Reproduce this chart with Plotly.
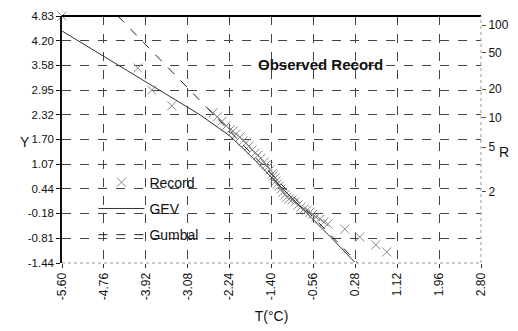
import math
import plotly.graph_objects as go

# ---- data ----
record_t = [-5.60, -4.08, -3.80, -3.40,
            -2.57, -2.49, -2.39, -2.31, -2.23, -2.17, -2.11, -2.03, -1.97, -1.91,
            -1.85, -1.79, -1.73, -1.67, -1.61, -1.55, -1.51, -1.47, -1.43, -1.39,
            -1.37, -1.33, -1.31, -1.29, -1.25, -1.21, -1.17, -1.13, -1.09, -1.05,
            -0.99, -0.93, -0.87, -0.81, -0.75, -0.69, -0.63, -0.57, -0.51, -0.43,
            -0.35, -0.27,
            0.07, 0.37, 0.69, 0.91]
record_y = [4.83, 3.51, 2.95, 2.55,
            2.37, 2.27, 2.16, 2.04, 1.94, 1.91, 1.83, 1.76, 1.66, 1.61,
            1.53, 1.43, 1.35, 1.30, 1.22, 1.12, 1.05, 1.00, 0.92, 0.82,
            0.77, 0.72, 0.64, 0.56, 0.51, 0.44, 0.36, 0.29, 0.23, 0.18,
            0.16, 0.11, 0.03, -0.02, -0.07, -0.10, -0.15, -0.20, -0.27, -0.32,
            -0.40, -0.45,
            -0.58, -0.78, -0.98, -1.16]

gev_t = [-5.60, -3.64, -2.83, -2.23, -1.80, -1.39, -0.97, -0.55, -0.14, 0.27]
gev_y = [4.45, 2.95, 2.32, 1.78, 1.26, 0.72, 0.19, -0.35, -0.88, -1.42]

gumbel_t = [-4.48, 0.33]
gumbel_y = [4.83, -1.44]

x_ticks = [-5.60, -4.76, -3.92, -3.08, -2.24, -1.40, -0.56, 0.28, 1.12, 1.96, 2.80]
y_ticks = [-1.44, -0.81, -0.18, 0.44, 1.07, 1.70, 2.32, 2.95, 3.58, 4.20, 4.83]
r_labels = [2, 5, 10, 20, 50, 100]

x_range = [-5.60, 2.80]
y_range = [-1.44, 4.83]

FONT = "Liberation Sans, Arial, sans-serif"

fig = go.Figure()
fig.add_trace(go.Scatter(
    x=record_t, y=record_y, mode="markers", name="Record",
    marker=dict(symbol="x-thin", size=9, line=dict(color="#8a8a8a", width=1)),
    legendgroup="a", cliponaxis=False))
fig.add_trace(go.Scatter(
    x=gev_t, y=gev_y, mode="lines", name="GEV",
    line=dict(color="#333333", width=1), legendgroup="b"))
fig.add_trace(go.Scatter(
    x=gumbel_t, y=gumbel_y, mode="lines", name="Gumbal",
    line=dict(color="#222222", width=1, dash="dash"), legendgroup="c"))
fig.add_trace(go.Scatter(x=[None], y=[None], yaxis="y2", showlegend=False,
                         hoverinfo="skip"))

# right axis: return period R on Gumbel reduced variate scale
r_pos = [-math.log(-math.log(1 - 1 / r)) for r in r_labels]

fig.update_layout(
    width=518, height=331,
    margin=dict(l=62, r=37, t=16, b=68),
    paper_bgcolor="white", plot_bgcolor="white",
    font=dict(family=FONT, size=12, color="#111"),
    showlegend=True,
    legend=dict(x=0.075, y=0.39, xanchor="left", yanchor="top",
                bgcolor="rgba(0,0,0,0)", font=dict(size=14, family=FONT),
                tracegroupgap=5, itemwidth=46),
    xaxis=dict(range=x_range, tickvals=x_ticks, automargin=False,
               ticktext=[f"{v:.2f}" for v in x_ticks], tickangle=-90,
               showgrid=True, gridcolor="#444", griddash="dash", gridwidth=1,
               ticks="outside", ticklen=4, tickcolor="#333",
               zeroline=False, showline=False,
               title=dict(text="T(°C)", font=dict(size=14), standoff=12)),
    yaxis=dict(range=y_range, tickvals=y_ticks, automargin=False,
               ticktext=[f"{v:.2f}" for v in y_ticks],
               tickfont=dict(size=11.5),
               showgrid=True, gridcolor="#444", griddash="dash", gridwidth=1,
               ticks="outside", ticklen=4, tickcolor="#111",
               zeroline=False, showline=True, linecolor="#111", linewidth=1.5),
    yaxis2=dict(range=y_range, overlaying="y", side="right", automargin=False,
                tickvals=r_pos, ticktext=[str(r) for r in r_labels],
                ticks="outside", ticklen=4, tickcolor="#555",
                showgrid=False, zeroline=False, showline=False,
                tickfont=dict(size=12)),
    annotations=[
        dict(x=-0.41, y=3.61, xref="x", yref="y",
             text="<b>Observed Record</b>", showarrow=False,
             font=dict(size=15, family=FONT, color="#111")),
        dict(x=18, y=142, xref="paper", yref="paper", text="Y", showarrow=False,
             font=dict(size=14, family=FONT, color="#111")),
        dict(x=511, y=152, xref="paper", yref="paper", text="R", showarrow=False,
             font=dict(size=14, family=FONT, color="#111")),
    ],
    shapes=[
        dict(type="line", xref="paper", yref="paper", x0=0, x1=1, y0=1, y1=1,
             line=dict(color="#000", width=2)),
        dict(type="line", xref="paper", yref="paper", x0=1, x1=1, y0=0, y1=1,
             line=dict(color="#999", width=1, dash="dot")),
        dict(type="line", xref="paper", yref="paper", x0=0, x1=1, y0=0, y1=0,
             line=dict(color="#999", width=1, dash="dot")),
    ],
)

# convert pixel positions of the two axis-letter annotations into paper coords
pw, ph = 518 - 62 - 37, 331 - 16 - 68
for ann in fig.layout.annotations[1:]:
    ann.x = (ann.x - 62) / pw
    ann.y = (331 - 68 - ann.y) / ph

fig.write_html("out.html")
